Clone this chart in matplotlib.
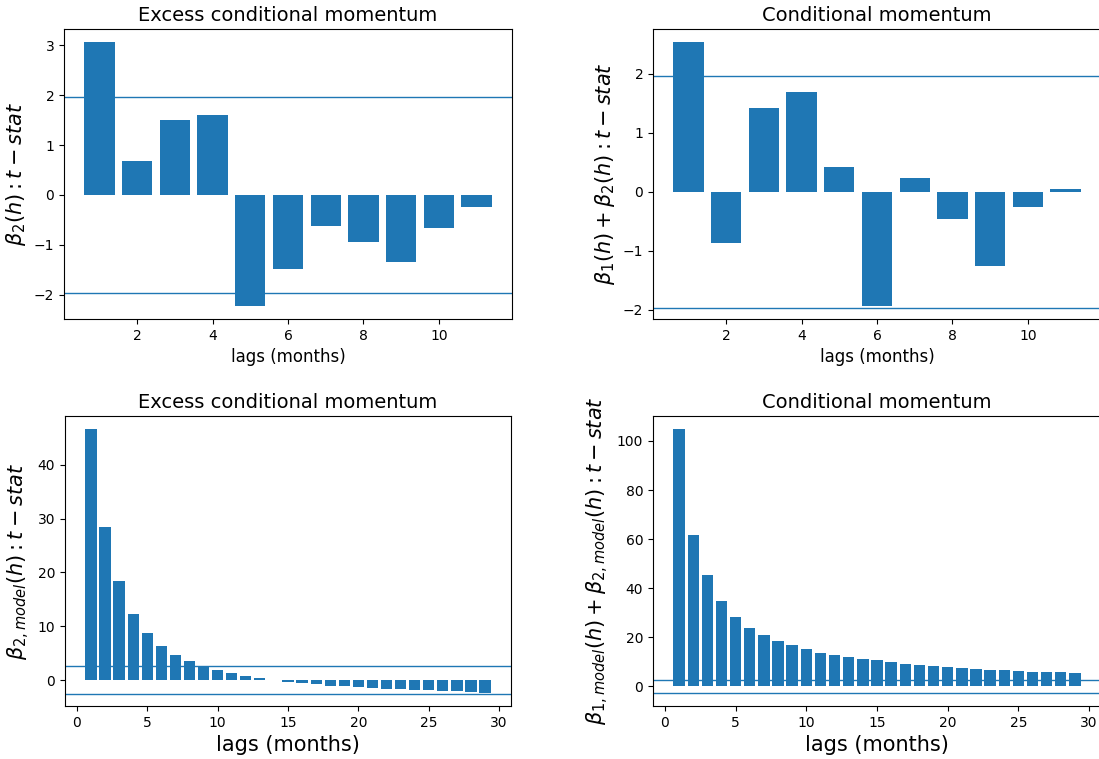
import numpy as np
import matplotlib
matplotlib.use('Agg')
import matplotlib.pyplot as plt

# t-stats by lag
lags_short = np.arange(1, 12)
excess_tstat = [3.06, 0.68, 1.51, 1.60, -2.22, -1.48, -0.63, -0.94, -1.34, -0.66, -0.25]
cond_tstat = [2.53, -0.86, 1.42, 1.68, 0.41, -1.93, 0.23, -0.46, -1.25, -0.26, 0.045]

lags_long = np.arange(1, 30)
excess_model = [46.6, 28.5, 18.5, 12.3, 8.7, 6.4, 4.75, 3.5, 2.5, 1.9, 1.3, 0.8, 0.43,
                -0.05, -0.37, -0.6, -0.74, -1.0, -1.17, -1.36, -1.48, -1.6, -1.73,
                -1.85, -1.91, -2.04, -2.1, -2.16, -2.35]
cond_model = [104.8, 61.5, 45.5, 34.8, 28.3, 24.0, 20.9, 18.6, 16.7, 15.2, 13.8, 12.9,
              11.9, 11.3, 10.6, 9.9, 9.35, 8.8, 8.4, 8.0, 7.6, 7.3, 6.9, 6.6, 6.4, 6.1,
              5.8, 5.7, 5.3]

crit_5 = 1.96
crit_1 = 2.58

W, H = 1099, 759
fig = plt.figure(figsize=(W / 100, H / 100), dpi=100)


def box(left, right, top, bottom):
    return [left / W, 1 - bottom / H, (right - left) / W, (bottom - top) / H]


# right-hand panels run slightly past the edge, as in the cropped original
ax1 = fig.add_axes(box(64, 512, 29, 319))
ax2 = fig.add_axes(box(653, 1101, 29, 319))
ax3 = fig.add_axes(box(65, 511, 416, 706))
ax4 = fig.add_axes(box(653, 1101, 416, 706))

ax1.bar(lags_short, excess_tstat)
ax1.axhline(crit_5, lw=1)
ax1.axhline(-crit_5, lw=1)
ax1.set_title('Excess conditional momentum', fontsize=14)
ax1.set_xlabel('lags (months)', fontsize=12)
ax1.set_ylabel(r'$\beta_2(h): t-stat$', fontsize=15)

ax2.bar(lags_short, cond_tstat)
ax2.axhline(crit_5, lw=1)
ax2.axhline(-crit_5, lw=1)
ax2.set_title('Conditional momentum', fontsize=14)
ax2.set_xlabel('lags (months)', fontsize=12)
ax2.set_ylabel(r'$\beta_1(h) + \beta_2(h): t-stat$', fontsize=15)

ax3.bar(lags_long, excess_model)
ax3.axhline(crit_1, lw=1)
ax3.axhline(-crit_1, lw=1)
ax3.set_title('Excess conditional momentum', fontsize=14)
ax3.set_xlabel('lags (months)', fontsize=15)
ax3.set_ylabel(r'$\beta_{2,model}(h): t-stat$', fontsize=15)

ax4.bar(lags_long, cond_model)
ax4.axhline(crit_1, lw=1)
ax4.axhline(-crit_1, lw=1)
ax4.set_title('Conditional momentum', fontsize=14)
ax4.set_xlabel('lags (months)', fontsize=15)
ax4.set_ylabel(r'$\beta_{1,model}(h) + \beta_{2,model}(h): t-stat$', fontsize=15)

fig.savefig('out.png', dpi=100)
